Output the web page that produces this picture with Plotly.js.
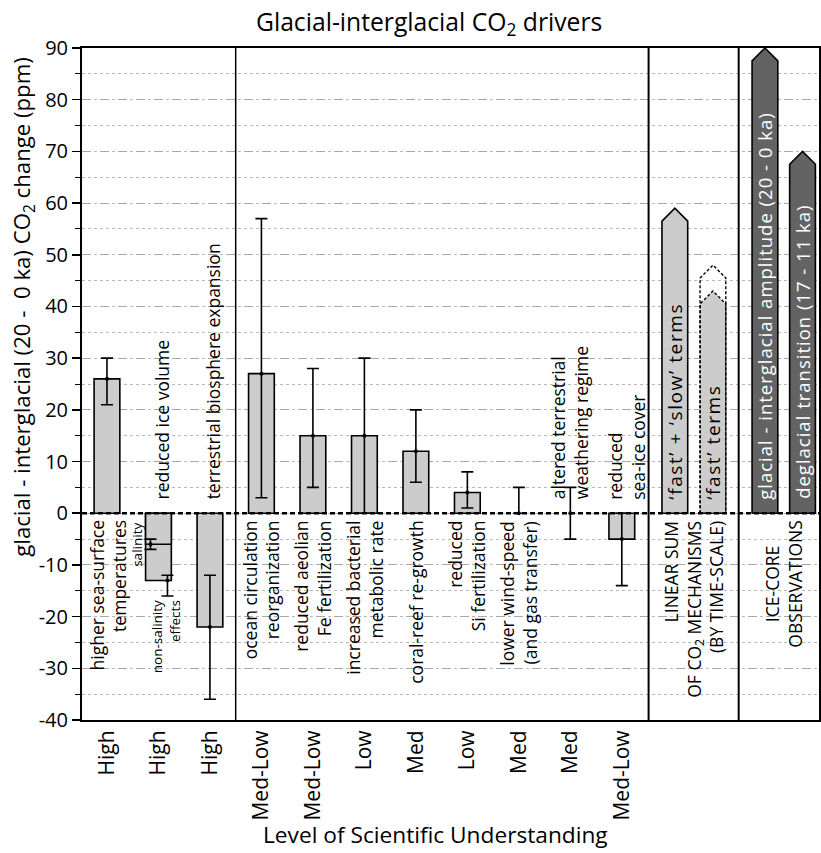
<!DOCTYPE html>
<html><head><meta charset="utf-8">
<script src="https://cdn.plot.ly/plotly-3.0.1.min.js"></script>
<style>body{margin:0;padding:0;background:#fff}</style>
</head><body><div id="chart" style="width:821px;height:853px"></div>
<script>
// ---------------- data ----------------
const mechanisms = [
  'higher sea-surface<br>temperatures',
  'reduced ice volume',
  'terrestrial biosphere expansion',
  'ocean circulation<br>reorganization',
  'reduced aeolian<br>Fe fertilization',
  'increased bacterial<br>metabolic rate',
  'coral-reef re-growth',
  'reduced<br>Si fertilization',
  'lower wind-speed<br>(and gas transfer)',
  'altered terrestrial<br>weathering regime',
  'reduced<br>sea-ice cover'
];
const losu = ['High','High','High','Med-Low','Med-Low','Low','Med','Low','Med','Med','Med-Low'];
const co2Change = [26, -13, -22, 27, 15, 15, 12, 4, null, null, -5];
const errCenter = [26, -6, -22, 27, 15, 15, 12, 4, 0, 0, -5];
const errHigh   = [30, -5, -12, 57, 28, 30, 20, 8, 5, 5, 0];
const errLow    = [21, -7, -36, 3, 5, 0, 6, 1, 0, -5, -14];
const salinityPart = [-6];
const nonSalCenter = [-13];
const nonSalHigh = [-12];
const nonSalLow = [-16];
const sumLabels = ['‘fast’ + ‘slow’ terms', '‘fast’ terms'];
const sumValues = [59, 43];
const fastUpperBound = [48];
const iceLabels = ['glacial - interglacial amplitude (20 - 0 ka)', 'deglacial transition (17 - 11 ka)'];
const iceValues = [90, 70];
const yTickVals = [-40, -30, -20, -10, 0, 10, 20, 30, 40, 50, 60, 70, 80, 90];
const yTickText = ['-40', '-30', '-20', '-10', '0', '10', '20', '30', '40', '50', '60', '70', '80', '90'];

// ---------------- layout constants ----------------
const FONT = 'Open Sans, Noto Sans, sans-serif';
const catX = mechanisms.map((_, i) => i + 1);
const sumX = [12.03, 12.77];
const iceX = [13.78, 14.51];
const BW = 0.5, TIP = 2.5;
const labelAbove = [false,true,true,false,false,false,false,false,false,true,true];
const labelDx = [0.02,0.07,0.06,0,0,0,0,0,0,0,0.1];

function arrow(xc, top){
  const h = BW/2;
  return {x:[xc-h, xc-h, xc, xc+h, xc+h, xc-h], y:[0, top-TIP, top, top-TIP, 0, 0]};
}
function spaced(t, px){ return '<span style="letter-spacing:' + px + 'px">' + t + '</span>'; }

const traces = [];
traces.push({type:'bar', x:catX, y:co2Change, base:0, width:BW,
  marker:{color:'#cccccc', line:{color:'black', width:1.6}}, hoverinfo:'skip'});
traces.push({type:'bar', x:[catX[1]], y:salinityPart, base:0, width:BW,
  marker:{color:'#cccccc', line:{color:'black', width:1.6}}, hoverinfo:'skip'});

// error bars
const ex = catX.slice(); ex[1] = catX[1] - 0.155;
traces.push({type:'scatter', mode:'markers',
  x: ex.concat([catX[1] + 0.175]),
  y: errCenter.concat(nonSalCenter),
  marker:{color:'black', size:4},
  error_y:{type:'data', symmetric:false,
    array: errHigh.map((v,i)=>v-errCenter[i]).concat([nonSalHigh[0]-nonSalCenter[0]]),
    arrayminus: errLow.map((v,i)=>errCenter[i]-v).concat([nonSalCenter[0]-nonSalLow[0]]),
    color:'black', thickness:1.6, width:6},
  hoverinfo:'skip'});

// linear sum arrows
const a0 = arrow(sumX[0], sumValues[0]);
traces.push({type:'scatter', mode:'lines', x:a0.x, y:a0.y, fill:'toself', fillcolor:'#cccccc',
  line:{color:'black', width:1.6}, hoverinfo:'skip'});
const a1 = arrow(sumX[1], sumValues[1]);
traces.push({type:'scatter', mode:'lines', x:a1.x, y:a1.y, fill:'toself', fillcolor:'#cccccc',
  line:{color:'black', width:1.4, dash:'3px,2px'}, hoverinfo:'skip'});
const a1u = arrow(sumX[1], fastUpperBound[0]);
traces.push({type:'scatter', mode:'lines', x:a1u.x, y:a1u.y,
  line:{color:'black', width:1.4, dash:'3px,2px'}, hoverinfo:'skip'});
// ice-core arrows
iceValues.forEach((v,i)=>{
  const a = arrow(iceX[i], v);
  traces.push({type:'scatter', mode:'lines', x:a.x, y:a.y, fill:'toself', fillcolor:'#636363',
    line:{color:'black', width:1.6}, hoverinfo:'skip'});
});

const ann = [];
mechanisms.forEach((t,i)=>{
  const up = labelAbove[i];
  ann.push({text:t, x:catX[i]+labelDx[i], y: up ? 2.3 : -1, xref:'x', yref:'y',
    xanchor:'center', yanchor: up ? 'bottom' : 'top', align: up ? 'left' : 'right',
    textangle:-90, showarrow:false, font:{family:FONT, size:17.5, color:'black'}});
});
ann.push({text:'salinity', x:1.58, y:-1.5, xref:'x', yref:'y', xanchor:'center', yanchor:'top',
  textangle:-90, showarrow:false, font:{family:FONT, size:13.5, color:'black'}});
ann.push({text:'non-salinity<br>effects', x:2.15, y:-16.5, xref:'x', yref:'y', xanchor:'center', yanchor:'top',
  align:'right', textangle:-90, showarrow:false, font:{family:FONT, size:13.5, color:'black'}});
sumLabels.forEach((t,i)=>{
  ann.push({text:spaced(t, 1.6), x:sumX[i], y:2.3, xref:'x', yref:'y', xanchor:'center', yanchor:'bottom',
    textangle:-90, showarrow:false, font:{family:FONT, size:19, color:'black'}});
});
iceLabels.forEach((t,i)=>{
  ann.push({text:spaced(t, 1.0), x:iceX[i], y:2.3, xref:'x', yref:'y', xanchor:'center', yanchor:'bottom',
    textangle:-90, showarrow:false, font:{family:FONT, size:18.5, color:'white'}});
});
ann.push({text:'LINEAR SUM<br>OF CO<sub>2</sub> MECHANISMS<br>(BY TIME-SCALE)', x:(sumX[0]+sumX[1])/2, y:-1,
  xref:'x', yref:'y', xanchor:'center', yanchor:'top', align:'right', textangle:-90, showarrow:false,
  font:{family:FONT, size:17.5, color:'black'}});
ann.push({text:'ICE-CORE<br>OBSERVATIONS', x:(iceX[0]+iceX[1])/2, y:-1,
  xref:'x', yref:'y', xanchor:'center', yanchor:'top', align:'center', textangle:-90, showarrow:false,
  font:{family:FONT, size:17.5, color:'black'}});
ann.push({text:'glacial - interglacial (20 -  0 ka) CO<sub>2</sub> change (ppm)', xref:'paper', yref:'paper',
  x:-0.08, y:0.615, xanchor:'center', yanchor:'middle', textangle:-90, showarrow:false,
  font:{family:FONT, size:22.2, color:'black'}});
ann.push({text:'Level of Scientific Understanding', xref:'paper', yref:'paper',
  x:0.48, y:-0.171, xanchor:'center', yanchor:'middle', showarrow:false,
  font:{family:FONT, size:22.7, color:'black'}});

const shapes = [
  {type:'line', xref:'paper', x0:0, x1:1, yref:'y', y0:0, y1:0, layer:'above',
   line:{color:'black', width:2.6, dash:'5px,3px'}},
  {type:'line', xref:'x', x0:3.5, x1:3.5, yref:'paper', y0:0, y1:1, layer:'above', line:{color:'black', width:1.5}},
  {type:'line', xref:'x', x0:11.52, x1:11.52, yref:'paper', y0:0, y1:1, layer:'above', line:{color:'black', width:2}},
  {type:'line', xref:'x', x0:13.27, x1:13.27, yref:'paper', y0:0, y1:1, layer:'above', line:{color:'black', width:2}}
];

const layout = {
  width:821, height:853,
  margin:{l:82, r:2, t:48, b:133},
  paper_bgcolor:'white', plot_bgcolor:'white',
  showlegend:false, barmode:'overlay',
  font:{family:FONT, color:'black'},
  title:{text:'Glacial-interglacial CO<sub>2</sub> drivers', xref:'paper', x:0.471, xanchor:'center',
    yref:'container', y:1-22/853, yanchor:'middle', font:{family:FONT, size:24.7, color:'black'}},
  xaxis:{range:[0.515, 14.83], tickvals:catX, ticktext:losu, tickangle:-90,
    ticks:'',
    showgrid:false, zeroline:false, showline:true, mirror:true, linecolor:'black', linewidth:2,
    tickfont:{family:FONT, size:21, color:'black'}},
  yaxis:{range:[-40, 90], tickvals:yTickVals, ticktext:yTickText, ticks:'outside', ticklen:8, tickwidth:1.5, tickcolor:'black',
    showgrid:true, gridcolor:'#a8a8a8', griddash:'dash', gridwidth:1,
    minor:{dtick:5, ticks:'outside', ticklen:5, tickwidth:1, tickcolor:'black',
      showgrid:true, gridcolor:'#b8b8b8', griddash:'dot', gridwidth:1},
    zeroline:false, showline:true, mirror:true, linecolor:'black', linewidth:2,
    tickfont:{family:FONT, size:20, color:'black'}},
  annotations:ann,
  shapes:shapes
};
Plotly.newPlot('chart', traces, layout, {staticPlot:true, displayModeBar:false});
</script></body></html>
